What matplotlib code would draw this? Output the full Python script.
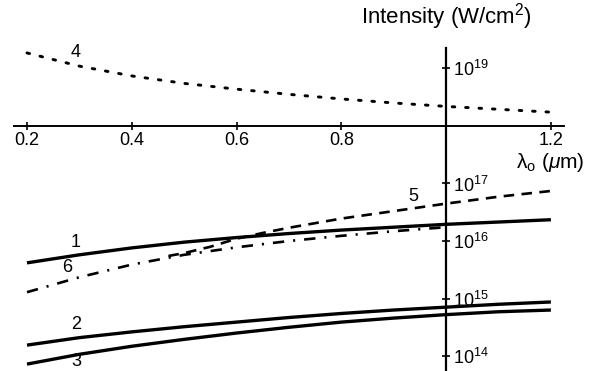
import numpy as np
import matplotlib
matplotlib.use("Agg")
import matplotlib.pyplot as plt
from matplotlib.ticker import FixedLocator, FuncFormatter

plt.rcParams["font.family"] = ["Liberation Sans", "DejaVu Sans"]
plt.rcParams["mathtext.fontset"] = "custom"
plt.rcParams["mathtext.rm"] = "Liberation Sans"
plt.rcParams["mathtext.it"] = "Liberation Sans:italic"

# wavelength (um) and log10 of peak intensity (W/cm^2) for each curve
wl = [0.2, 0.3, 0.4, 0.5, 0.6, 0.7, 0.8, 0.9, 1.0, 1.1, 1.2]
curve1 = [15.62, 15.76, 15.88, 15.98, 16.06, 16.13, 16.19, 16.24, 16.29, 16.33, 16.37]
curve2 = [14.19, 14.32, 14.42, 14.51, 14.59, 14.67, 14.74, 14.80, 14.85, 14.90, 14.94]
curve3 = [13.86, 14.03, 14.17, 14.29, 14.40, 14.50, 14.59, 14.66, 14.72, 14.77, 14.80]
curve4 = [19.27, 19.04, 18.87, 18.74, 18.64, 18.55, 18.47, 18.40, 18.34, 18.29, 18.24]

wl5 = [0.47, 0.5, 0.55, 0.6, 0.65, 0.7, 0.8, 0.9, 1.0, 1.1, 1.2]
curve5 = [15.74, 15.79, 15.90, 16.04, 16.14, 16.23, 16.39, 16.52, 16.65, 16.77, 16.87]

wl6 = [0.2, 0.3, 0.4, 0.5, 0.6, 0.7, 0.8, 0.9, 1.0]
curve6 = [15.11, 15.37, 15.59, 15.76, 15.89, 16.00, 16.09, 16.17, 16.24]

xticks = [0.2, 0.4, 0.6, 0.8, 1.2]
ytick_exps = [14, 15, 16, 17, 19]

fig = plt.figure(figsize=(5.97, 3.71), dpi=100)
ax = fig.add_axes([0, 0, 1, 1])
ax.set_yscale("log")
ax.set_xlim(0.1485, 1.288)
ax.set_ylim(10 ** 13.74, 10 ** 20.19)


def power(vals):
    return [10.0 ** v for v in vals]


lw = 2.4
ax.plot(wl, power(curve1), color="black", lw=lw, solid_capstyle="butt")
ax.plot(wl, power(curve2), color="black", lw=lw, solid_capstyle="butt")
ax.plot(wl, power(curve3), color="black", lw=lw, solid_capstyle="butt")
ax.plot(wl, power(curve4), color="black", lw=2.1, linestyle=(0, (0.9, 3.7)), dash_capstyle="round")
ax.plot(wl5, power(curve5), color="black", lw=1.9, linestyle=(0, (4.0, 2.8)))
ax.plot(wl6, power(curve6), color="black", lw=1.9, linestyle=(0, (4.3, 3.4, 0.8, 3.4)))

# axes crossing at (1.0, 1e18)
for side in ["left", "top"]:
    ax.spines[side].set_visible(False)
ax.spines["bottom"].set_position(("data", 1e18))
ax.spines["bottom"].set_bounds(0.175, 1.225)
ax.spines["right"].set_position(("data", 1.0))
ax.spines["right"].set_bounds(10 ** 13.74, 10 ** 19.36)
ax.spines["bottom"].set_linewidth(1.4)
ax.spines["right"].set_linewidth(1.6)

ax.xaxis.set_major_locator(FixedLocator(xticks))
ax.xaxis.set_minor_locator(FixedLocator([]))
ax.xaxis.set_major_formatter(FuncFormatter(lambda v, p: f"{v:.1f}"))
ax.tick_params(axis="x", direction="inout", length=6, width=1.2, pad=1, labelsize=13)

ax.yaxis.tick_right()
ax.yaxis.set_major_locator(FixedLocator(power(ytick_exps)))
ax.yaxis.set_minor_locator(FixedLocator([]))
ax.yaxis.set_major_formatter(FuncFormatter(lambda v, p: f"$10^{{{int(round(np.log10(v)))}}}$"))
ax.tick_params(axis="y", direction="inout", length=6, width=1.2, pad=2, labelsize=13)

# curve numbers
ax.text(0.2935, 1.9e19, "4", fontsize=13, ha="center", va="center")
ax.text(0.2935, 9.6e15, "1", fontsize=13, ha="center", va="center")
ax.text(0.276, 3.4e15, "6", fontsize=13, ha="center", va="center")
ax.text(0.2935, 3.5e14, "2", fontsize=13, ha="center", va="center")
ax.text(0.2935, 7.9e13, "3", fontsize=13, ha="center", va="center")
ax.text(0.937, 6.0e16, "5", fontsize=13, ha="center", va="center")

fig.text(446 / 597, 1 - 17 / 371, "Intensity (W/cm$^2$)", fontsize=16, ha="center", va="center")
fig.text(550 / 597, 1 - 162 / 371, r"λ$_\mathrm{o}$ ($\mu$m)", fontsize=15, ha="center", va="center")

fig.savefig("out.png", dpi=100)
